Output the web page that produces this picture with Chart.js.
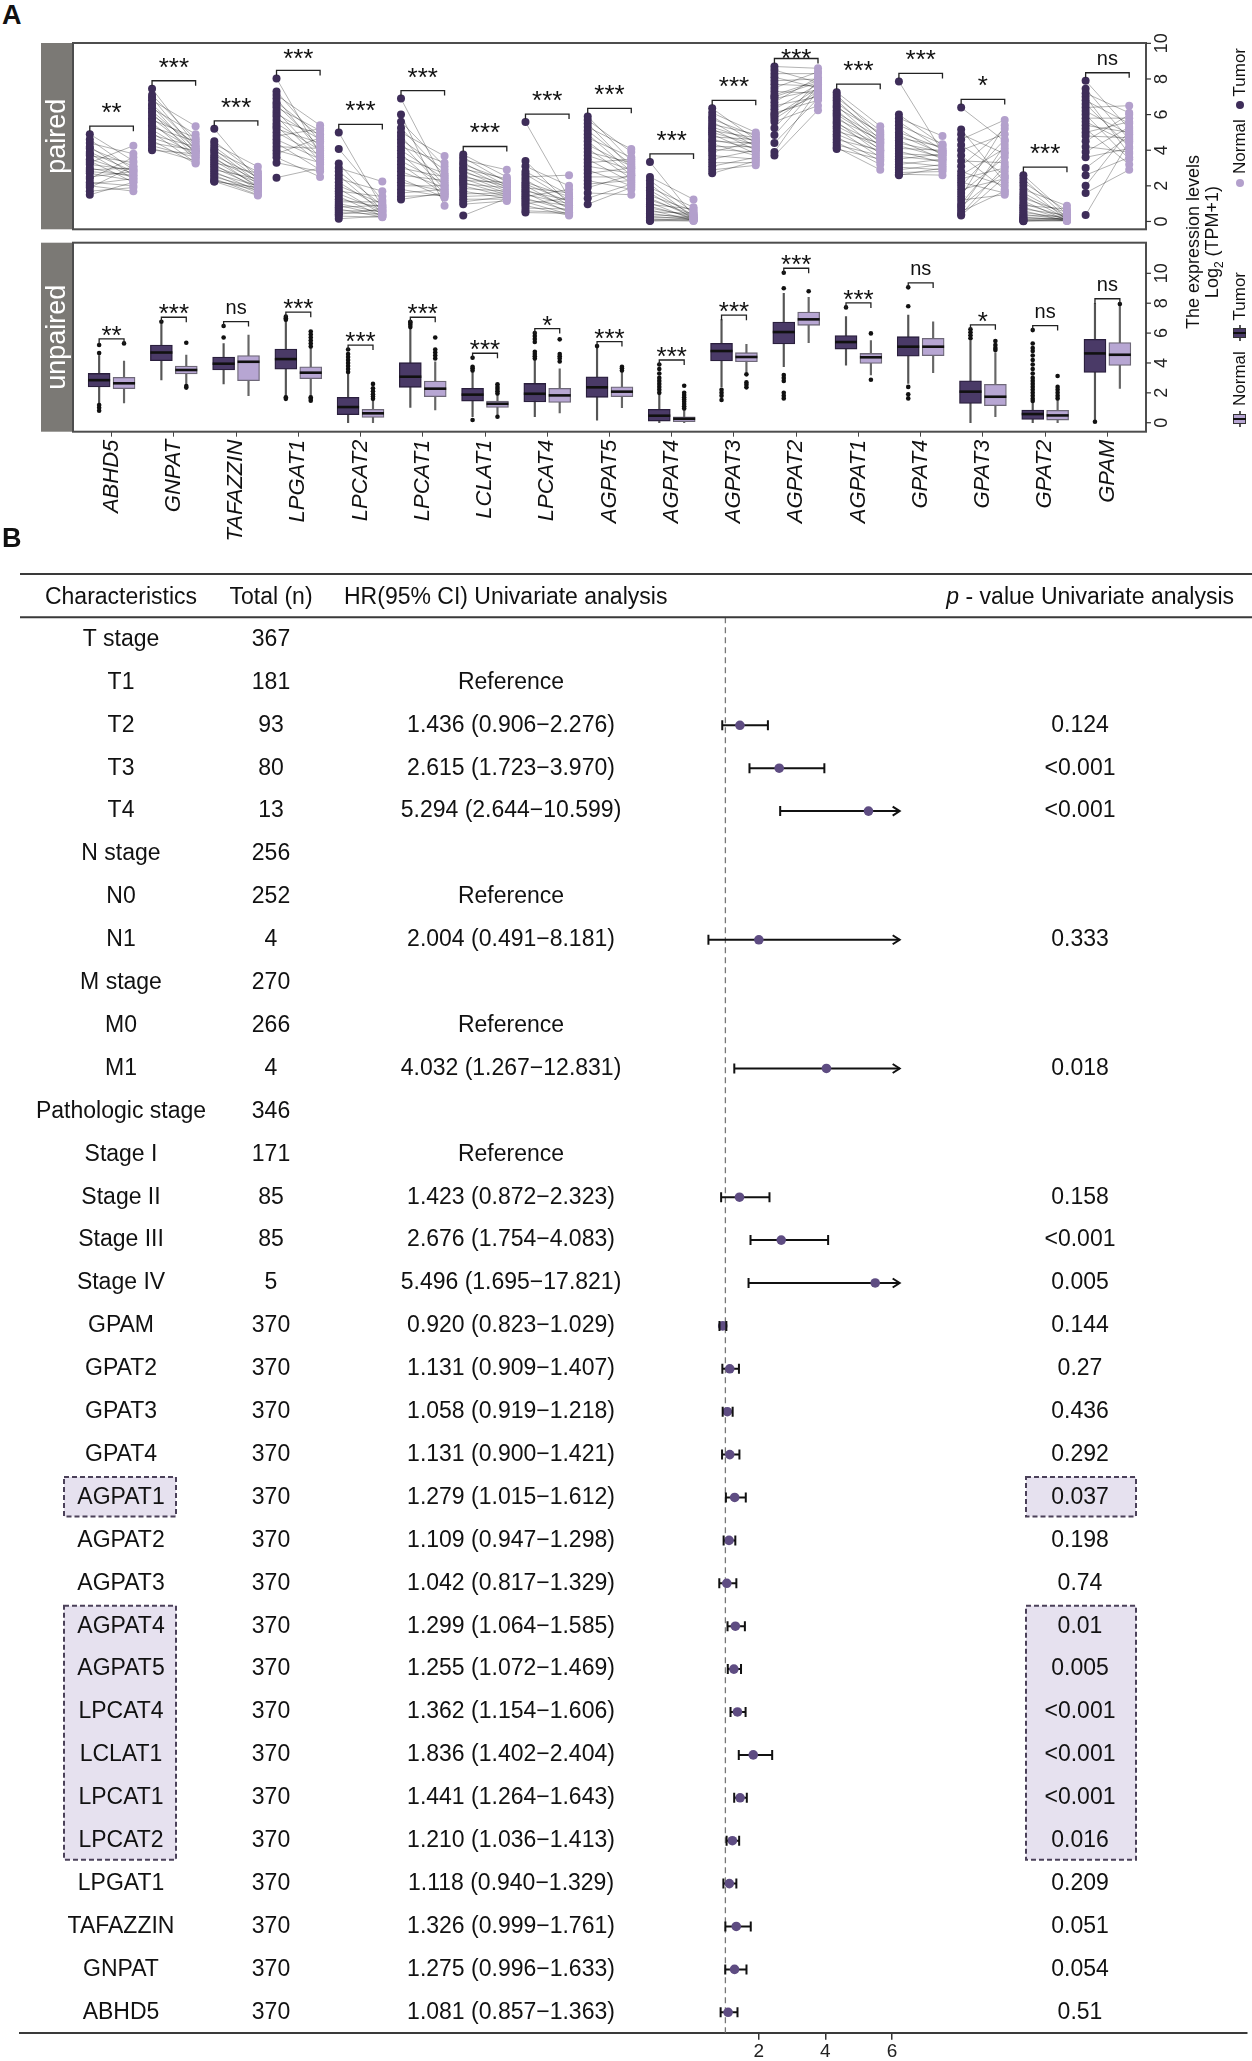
<!DOCTYPE html>
<html>
<head>
<meta charset="utf-8">
<title>Glycerophospholipid genes: expression and univariate Cox analysis</title>
<script src="https://cdn.jsdelivr.net/npm/chart.js@4.4.1/dist/chart.umd.min.js"></script>
<style>
  body { margin: 0; background: #fff; font-family: "Liberation Sans", Arial, sans-serif; color: #111; }
  #page { position: relative; width: 1252px; height: 2061px; overflow: hidden; background: #fff; }
  .abs { position: absolute; }
  .tag { font-weight: bold; font-size: 27px; line-height: 30px; }
  .rot { transform: translate(-50%, -50%) rotate(-90deg); white-space: nowrap; text-align: center; }
  .rot sub { font-size: 12px; line-height: 0; }
  .dot { display: inline-block; width: 8px; height: 8px; border-radius: 50%; vertical-align: middle; margin: 0 5px 2px 5px; }
  .key { display: inline-block; position: relative; width: 16px; height: 13px; vertical-align: middle; margin: 0 5px 2px 5px; }
  .key .wh { position: absolute; left: 0; right: 0; top: 6px; height: 1.5px; background: #555; }
  .key .bx { position: absolute; left: 3px; width: 10px; top: 0; height: 13px; box-sizing: border-box; border: 1.2px solid #333; }
  .key .md { position: absolute; left: 7px; width: 2px; top: 0; height: 13px; background: #111; }
</style>
</head>
<body>
<div id="page">
  <div class="abs tag" style="left:2px;top:0px">A</div>
  <div class="abs" style="left:0;top:0;width:1252px;height:236px"><canvas id="pairedChart"></canvas></div>
  <div class="abs" style="left:0;top:236px;width:1252px;height:320px"><canvas id="unpairedChart"></canvas></div>

  <div class="abs rot" style="left:1203px;top:242px;font-size:18px;line-height:19px">The expression levels<br>Log<sub>2</sub> (TPM+1)</div>
  <div class="abs rot" style="left:1240px;top:120px;font-size:17px"><span class="dot" style="background:#b3a0cc"></span>Normal&nbsp;<span class="dot" style="background:#3e2d59"></span>Tumor</div>
  <div class="abs rot" style="left:1240px;top:352px;font-size:17px"><span class="key"><span class="wh"></span><span class="bx" style="background:#b7a6d3"></span><span class="md"></span></span>Normal&nbsp;<span class="key"><span class="wh"></span><span class="bx" style="background:#4a3a67"></span><span class="md"></span></span>Tumor</div>

  <div class="abs tag" style="left:2px;top:523px">B</div>
  <div class="abs" style="left:0;top:560px;width:1252px;height:1501px"><canvas id="forestChart"></canvas></div>
</div>

<script>
// ---------- Panel A data ----------
const genes = ['ABHD5', 'GNPAT', 'TAFAZZIN', 'LPGAT1', 'LPCAT2', 'LPCAT1', 'LCLAT1', 'LPCAT4', 'AGPAT5',
  'AGPAT4', 'AGPAT3', 'AGPAT2', 'AGPAT1', 'GPAT4', 'GPAT3', 'GPAT2', 'GPAM'];
const pairedSig = ['**', '***', '***', '***', '***', '***', '***', '***', '***', '***', '***', '***', '***', '***', '*', '***', 'ns'];
const unpairedSig = ['**', '***', 'ns', '***', '***', '***', '***', '*', '***', '***', '***', '***', '***', 'ns', '*', 'ns', 'ns'];
const expressionTicks = [0, 2, 4, 6, 8, 10];

// paired samples: tumor[k] is matched with normal[k]
const pairedTumor = [
  [4.9, 4.6, 4.4, 4.2, 4.1, 3.9, 3.8, 3.7, 3.5, 3.4, 3.3, 3.2, 3.0, 2.9, 2.8, 2.7, 2.5, 2.4, 2.2, 2.1, 2.0, 1.9, 1.7, 1.5],
  [7.45, 7.1, 6.95, 6.8, 6.6, 6.5, 6.35, 6.2, 6.1, 5.95, 5.8, 5.7, 5.55, 5.4, 5.3, 5.15, 5.0, 4.85, 4.7, 4.55, 4.4, 4.25, 4.1, 4.0],
  [5.2, 4.5, 4.35, 4.2, 4.05, 3.95, 3.85, 3.7, 3.6, 3.5, 3.4, 3.3, 3.2, 3.1, 3.0, 2.9, 2.8, 2.7, 2.6, 2.5, 2.4, 2.3, 2.25, 2.25],
  [8.03, 7.3, 7.1, 6.9, 6.7, 6.55, 6.4, 6.2, 6.05, 5.9, 5.7, 5.5, 5.35, 5.2, 5.0, 4.8, 4.6, 4.4, 4.2, 4.0, 3.8, 3.6, 3.3, 2.46],
  [5.0, 4.07, 3.25, 3.0, 2.8, 2.6, 2.4, 2.2, 2.0, 1.85, 1.7, 1.55, 1.4, 1.25, 1.1, 1.0, 0.9, 0.8, 0.7, 0.6, 0.5, 0.4, 0.3, 0.15],
  [6.9, 6.0, 5.6, 5.25, 5.0, 4.8, 4.6, 4.4, 4.2, 4.0, 3.8, 3.6, 3.4, 3.2, 3.0, 2.8, 2.6, 2.4, 2.2, 2.0, 1.8, 1.6, 1.4, 1.24],
  [3.76, 3.6, 3.45, 3.3, 3.2, 3.05, 2.95, 2.85, 2.75, 2.6, 2.5, 2.4, 2.3, 2.2, 2.1, 2.0, 1.85, 1.7, 1.55, 1.4, 1.25, 1.1, 0.97, 0.33],
  [5.58, 3.4, 3.1, 2.8, 2.65, 2.5, 2.35, 2.2, 2.1, 2.0, 1.9, 1.8, 1.7, 1.6, 1.5, 1.4, 1.3, 1.2, 1.1, 1.0, 0.9, 0.75, 0.6, 0.5],
  [5.9, 5.7, 5.5, 5.3, 5.1, 4.9, 4.7, 4.5, 4.3, 4.1, 3.9, 3.7, 3.5, 3.3, 3.1, 2.9, 2.7, 2.5, 2.3, 2.1, 1.9, 1.6, 1.3, 0.97],
  [3.34, 2.5, 2.3, 2.1, 1.9, 1.75, 1.6, 1.45, 1.3, 1.2, 1.05, 0.95, 0.85, 0.75, 0.65, 0.55, 0.45, 0.38, 0.3, 0.22, 0.15, 0.1, 0.05, 0.02],
  [6.35, 6.1, 5.9, 5.75, 5.6, 5.45, 5.3, 5.2, 5.1, 5.0, 4.9, 4.75, 4.6, 4.5, 4.35, 4.2, 4.05, 3.9, 3.7, 3.5, 3.3, 3.1, 2.9, 2.7],
  [8.7, 8.5, 8.3, 8.1, 7.9, 7.7, 7.5, 7.3, 7.1, 6.9, 6.7, 6.5, 6.3, 6.1, 5.9, 5.75, 5.6, 5.25, 4.85, 4.4, 3.9, 3.7, 6.0, 7.0],
  [7.26, 7.1, 6.95, 6.8, 6.65, 6.5, 6.4, 6.25, 6.1, 6.0, 5.9, 5.75, 5.6, 5.5, 5.35, 5.2, 5.05, 4.9, 4.75, 4.6, 4.45, 4.3, 4.15, 4.07],
  [7.86, 6.0, 5.8, 5.6, 5.4, 5.2, 5.0, 4.85, 4.7, 4.55, 4.4, 4.25, 4.1, 3.95, 3.8, 3.65, 3.5, 3.35, 3.2, 3.05, 2.9, 2.75, 2.65, 2.6],
  [6.4, 5.16, 4.9, 4.6, 4.3, 4.0, 3.7, 3.4, 3.1, 2.8, 2.6, 2.4, 2.2, 2.0, 1.8, 1.6, 1.4, 1.2, 1.0, 0.85, 0.7, 0.55, 0.4, 0.33],
  [2.6, 2.4, 2.2, 2.0, 1.8, 1.6, 1.45, 1.3, 1.15, 1.0, 0.9, 0.8, 0.7, 0.6, 0.5, 0.4, 0.32, 0.25, 0.2, 0.15, 0.1, 0.06, 0.03, 0.01],
  [7.9, 7.45, 7.2, 7.0, 6.8, 6.6, 6.4, 6.2, 6.0, 5.8, 5.6, 5.4, 5.2, 5.0, 4.8, 4.5, 4.2, 3.9, 3.6, 3.0, 2.6, 2.0, 1.6, 0.36]
];
const pairedNormal = [
  [3.4, 2.9, 3.8, 2.6, 3.1, 2.8, 2.4, 3.3, 2.7, 2.2, 4.25, 2.9, 2.5, 3.0, 2.6, 2.3, 2.8, 3.6, 2.0, 2.4, 1.7, 3.1, 1.9, 2.2],
  [4.3, 4.6, 4.0, 5.35, 4.2, 3.8, 4.9, 4.1, 3.6, 4.4, 3.9, 4.7, 3.5, 4.0, 4.5, 3.7, 3.3, 4.2, 3.9, 3.25, 4.0, 3.6, 3.4, 3.8],
  [2.3, 2.6, 3.07, 2.4, 2.2, 2.8, 2.1, 2.5, 1.9, 2.3, 2.0, 2.7, 1.8, 2.2, 1.95, 2.4, 1.7, 2.0, 1.6, 1.85, 1.5, 1.75, 1.46, 1.9],
  [3.8, 4.5, 5.4, 3.9, 4.8, 4.2, 5.1, 3.6, 4.6, 3.4, 4.9, 4.0, 3.2, 4.4, 3.7, 5.2, 3.5, 2.9, 4.1, 3.3, 4.7, 2.5, 2.8, 3.0],
  [0.8, 1.2, 0.6, 2.24, 0.9, 0.5, 1.7, 0.7, 1.0, 0.4, 1.4, 0.6, 0.3, 0.8, 1.1, 0.5, 0.35, 0.9, 0.25, 0.6, 0.4, 0.7, 0.24, 0.3],
  [2.2, 0.88, 3.1, 2.6, 3.67, 2.0, 2.9, 1.8, 3.3, 2.4, 1.6, 2.7, 2.1, 1.5, 2.5, 1.9, 2.3, 1.33, 1.7, 2.0, 1.4, 1.8, 1.5, 1.6],
  [2.5, 2.2, 2.9, 2.0, 2.3, 1.9, 2.4, 1.8, 2.1, 1.7, 2.0, 1.6, 2.2, 1.5, 1.9, 1.4, 1.7, 1.3, 1.6, 1.5, 1.25, 1.4, 1.15, 1.3],
  [1.3, 1.0, 2.0, 1.5, 1.2, 2.6, 0.9, 1.4, 1.1, 0.7, 1.6, 0.8, 1.2, 0.5, 1.0, 1.8, 0.6, 0.9, 0.4, 1.3, 0.33, 0.7, 0.5, 0.45],
  [3.4, 3.9, 3.0, 4.07, 3.2, 2.8, 3.6, 2.6, 3.1, 2.4, 3.3, 2.9, 2.2, 3.5, 2.7, 2.0, 3.0, 2.5, 1.8, 2.3, 2.6, 1.5, 2.1, 1.9],
  [0.3, 1.24, 0.5, 0.2, 0.8, 0.35, 0.15, 0.6, 0.25, 0.4, 0.1, 0.7, 0.2, 0.3, 0.05, 0.45, 0.15, 0.25, 0.1, 0.2, 0.05, 0.15, 0.02, 0.1],
  [4.6, 5.0, 4.4, 4.8, 4.2, 4.9, 4.5, 4.0, 4.7, 4.3, 3.8, 4.6, 4.1, 4.4, 3.7, 4.2, 3.9, 4.5, 3.5, 4.0, 3.3, 3.6, 3.15, 3.4],
  [8.6, 7.8, 8.3, 7.5, 8.0, 7.6, 8.4, 7.2, 7.9, 7.4, 8.1, 7.0, 7.7, 6.8, 7.5, 7.3, 6.5, 7.9, 7.6, 6.9, 7.4, 6.25, 7.1, 7.8],
  [5.35, 4.8, 5.1, 4.6, 4.9, 4.4, 5.0, 4.2, 4.7, 4.5, 4.0, 4.6, 3.8, 4.3, 4.1, 3.6, 4.4, 3.9, 3.4, 4.0, 3.2, 3.7, 2.9, 3.5],
  [3.9, 4.3, 4.8, 4.0, 4.34, 3.7, 4.1, 3.8, 4.2, 3.5, 3.9, 3.6, 4.0, 3.3, 3.7, 3.4, 3.8, 3.1, 3.5, 2.9, 3.2, 2.8, 2.6, 3.0],
  [4.5, 2.2, 3.8, 5.7, 2.6, 4.9, 1.8, 3.3, 5.2, 2.0, 4.1, 3.0, 1.6, 4.6, 2.4, 3.6, 5.4, 1.5, 3.9, 2.8, 4.3, 1.7, 3.1, 2.5],
  [0.4, 0.2, 0.6, 0.1, 0.88, 0.3, 0.15, 0.5, 0.05, 0.25, 0.7, 0.1, 0.35, 0.02, 0.2, 0.1, 0.3, 0.05, 0.15, 0.08, 0.2, 0.03, 0.1, 0.05],
  [5.2, 4.6, 6.1, 3.8, 5.5, 4.2, 6.5, 4.9, 3.5, 5.8, 4.4, 5.0, 3.2, 5.6, 4.7, 6.0, 3.9, 5.3, 4.1, 4.8, 3.6, 5.1, 2.9, 4.5]
];

// unpaired samples: [lower whisker, Q1, median, Q3, upper whisker]
const tumorBox = [
  [1.3, 2.4, 2.85, 3.3, 4.5], [2.86, 4.15, 4.7, 5.2, 6.6], [2.59, 3.53, 3.95, 4.4, 5.3], [1.8, 3.59, 4.26, 4.93, 6.8],
  [0.0, 0.54, 1.05, 1.7, 3.3], [1.03, 2.37, 3.08, 4.02, 6.3], [0.4, 1.45, 1.88, 2.3, 3.4], [0.4, 1.4, 1.94, 2.63, 4.2],
  [0.18, 1.7, 2.37, 3.08, 5.0], [0.0, 0.11, 0.47, 0.9, 1.9], [2.4, 4.13, 4.8, 5.31, 6.9], [3.75, 5.27, 6.07, 6.74, 8.66],
  [3.86, 4.93, 5.4, 5.83, 7.1], [2.63, 4.46, 5.09, 5.76, 7.2], [0.0, 1.29, 2.08, 2.81, 5.5], [0.0, 0.22, 0.58, 0.85, 1.3],
  [0.1, 3.37, 4.64, 5.58, 8.0]
];
const normalBox = [
  [1.32, 2.28, 2.64, 3.04, 4.13], [2.6, 3.26, 3.53, 3.8, 4.53], [1.81, 2.81, 4.08, 4.49, 5.87], [1.8, 2.95, 3.35, 3.75, 5.0],
  [0.0, 0.36, 0.63, 0.9, 1.5], [0.85, 1.74, 2.28, 2.79, 4.08], [0.5, 1.03, 1.27, 1.45, 1.9], [0.65, 1.36, 1.83, 2.3, 3.6],
  [1.0, 1.74, 2.08, 2.41, 3.4], [0.0, 0.07, 0.27, 0.4, 0.85], [3.4, 4.08, 4.4, 4.69, 5.25], [5.36, 6.52, 6.92, 7.41, 8.4],
  [3.2, 3.97, 4.38, 4.64, 5.5], [3.35, 4.49, 5.09, 5.65, 6.76], [0.4, 1.14, 1.74, 2.57, 4.7], [0.0, 0.18, 0.49, 0.83, 1.5],
  [2.3, 3.84, 4.55, 5.36, 7.95]
];
const tumorOutliers = [
  [4.66, 5.2, 1.18, 1.0, 0.8], [6.76], [5.7, 6.47], [6.9, 7.0, 7.1, 1.7, 1.6],
  [3.4, 3.6, 3.8, 4.0, 4.2, 4.4, 4.6, 4.9], [6.4, 6.55, 6.7, 6.76], [3.5, 3.65, 3.75, 4.35, 0.18],
  [4.3, 4.45, 4.6, 4.75, 5.4, 5.6, 5.8, 6.0], [5.13], [2.0, 2.2, 2.4, 2.6, 2.8, 3.0, 3.3, 3.6, 3.9],
  [2.2, 2.0, 1.8, 1.52], [9.0, 10.04, 3.2, 3.0, 2.8, 2.0, 1.8, 1.63], [7.72], [7.8, 9.06, 2.4, 1.9, 1.63],
  [5.65, 5.85, 6.05, 6.25], [1.45, 1.6, 1.8, 2.0, 2.2, 2.4, 2.6, 2.8, 3.0, 3.3, 3.6, 3.9, 4.2, 4.5, 4.8, 5.0, 5.3, 6.2], [0.07]
];
const normalOutliers = [
  [5.31], [5.35, 2.46, 2.35], [], [5.1, 5.3, 5.5, 5.7, 5.9, 6.1, 1.7, 1.6, 1.47],
  [1.6, 1.75, 1.9, 2.1, 2.3, 2.6], [4.3, 4.5, 4.7, 4.9, 5.7], [1.96, 2.1, 2.25, 2.4, 2.57, 0.4],
  [4.1, 4.3, 4.45, 4.6, 5.58], [3.5, 3.65, 3.75], [0.95, 1.1, 1.25, 1.4, 1.55, 1.7, 1.85, 2.0, 2.48],
  [3.24, 2.7, 2.55, 2.37], [8.8], [5.98, 2.88], [], [4.87, 5.0, 5.2, 5.47], [1.63, 1.8, 2.0, 2.2, 2.4, 3.13], [7.95]
];

// ---------- Panel B data ----------
const characteristics = ['T stage', 'T1', 'T2', 'T3', 'T4', 'N stage', 'N0', 'N1', 'M stage', 'M0', 'M1',
  'Pathologic stage', 'Stage I', 'Stage II', 'Stage III', 'Stage IV', 'GPAM', 'GPAT2', 'GPAT3', 'GPAT4',
  'AGPAT1', 'AGPAT2', 'AGPAT3', 'AGPAT4', 'AGPAT5', 'LPCAT4', 'LCLAT1', 'LPCAT1', 'LPCAT2', 'LPGAT1',
  'TAFAZZIN', 'GNPAT', 'ABHD5'];
const totals = [367, 181, 93, 80, 13, 256, 252, 4, 270, 266, 4, 346, 171, 85, 85, 5,
  370, 370, 370, 370, 370, 370, 370, 370, 370, 370, 370, 370, 370, 370, 370, 370, 370];
const hazardRatio = [null, null, 1.436, 2.615, 5.294, null, null, 2.004, null, null, 4.032, null, null, 1.423, 2.676, 5.496,
  0.920, 1.131, 1.058, 1.131, 1.279, 1.109, 1.042, 1.299, 1.255, 1.362, 1.836, 1.441, 1.210, 1.118, 1.326, 1.275, 1.081];
const ciLower = [null, null, 0.906, 1.723, 2.644, null, null, 0.491, null, null, 1.267, null, null, 0.872, 1.754, 1.695,
  0.823, 0.909, 0.919, 0.900, 1.015, 0.947, 0.817, 1.064, 1.072, 1.154, 1.402, 1.264, 1.036, 0.940, 0.999, 0.996, 0.857];
const ciUpper = [null, null, 2.276, 3.970, 10.599, null, null, 8.181, null, null, 12.831, null, null, 2.323, 4.083, 17.821,
  1.029, 1.407, 1.218, 1.421, 1.612, 1.298, 1.329, 1.585, 1.469, 1.606, 2.404, 1.643, 1.413, 1.329, 1.761, 1.633, 1.363];
const pValues = ['', '', '0.124', '<0.001', '<0.001', '', '', '0.333', '', '', '0.018', '', '', '0.158', '<0.001', '0.005',
  '0.144', '0.27', '0.436', '0.292', '0.037', '0.198', '0.74', '0.01', '0.005', '<0.001', '<0.001', '<0.001', '0.016',
  '0.209', '0.051', '0.054', '0.51'];
const referenceLevels = ['T1', 'N0', 'M0', 'Stage I'];
const highlighted = ['AGPAT1', 'AGPAT4', 'AGPAT5', 'LPCAT4', 'LCLAT1', 'LPCAT1', 'LPCAT2'];
const hrTicks = [2, 4, 6];

// ---------- styles ----------
const FONT = '"Liberation Sans", Arial, sans-serif';
const TUMOR_DOT = '#3e2d59', NORMAL_DOT = '#b3a0cc';
const TUMOR_BOX = '#4a3a67', NORMAL_BOX = '#b7a6d3';
const STRIP = '#7b7975', FRAME = '#4d4d4d';
const FOREST_DOT = '#5e4c82', HL_FILL = '#e6e1ef', HL_EDGE = '#4b4159';
const PAIR_DX = 0.35, BOX_DX = 0.2, BOX_PX = 22;
const HR_CLIP = 6.23;

Chart.defaults.font.family = FONT;
Chart.defaults.color = '#111';
Chart.defaults.animation = false;

// strip label, frame, right axis and significance brackets of one panel
function panelDecor(o) {
  return {
    id: 'decor',
    beforeDatasetsDraw(chart) {
      const { ctx, chartArea: a } = chart;
      ctx.save();
      ctx.fillStyle = STRIP;
      ctx.fillRect(a.left - 32, a.top, 32, a.bottom - a.top);
      ctx.translate(a.left - 16, (a.top + a.bottom) / 2);
      ctx.rotate(-Math.PI / 2);
      ctx.fillStyle = '#fff';
      ctx.font = '27px ' + FONT;
      ctx.textAlign = 'center';
      ctx.textBaseline = 'middle';
      ctx.fillText(o.strip, 0, 1);
      ctx.restore();
    },
    afterDatasetsDraw(chart) {
      const { ctx, chartArea: a, scales: { x, y } } = chart;
      ctx.save();
      if (o.medians) {
        ctx.strokeStyle = '#111';
        ctx.lineWidth = 2.6;
        [[tumorBox, -BOX_DX], [normalBox, BOX_DX]].forEach(([boxes, dx]) => {
          boxes.forEach((b, i) => {
            const px = x.getPixelForValue(i + dx), py = y.getPixelForValue(b[2]);
            ctx.beginPath();
            ctx.moveTo(px - BOX_PX / 2, py);
            ctx.lineTo(px + BOX_PX / 2, py);
            ctx.stroke();
          });
        });
      }
      ctx.strokeStyle = FRAME;
      ctx.lineWidth = 2;
      ctx.strokeRect(a.left, a.top, a.right - a.left, a.bottom - a.top);

      // right axis
      ctx.strokeStyle = '#333';
      ctx.lineWidth = 1.2;
      ctx.fillStyle = '#222';
      ctx.font = '18px ' + FONT;
      ctx.textAlign = 'center';
      ctx.textBaseline = 'middle';
      expressionTicks.forEach(v => {
        const py = y.getPixelForValue(v);
        ctx.beginPath();
        ctx.moveTo(a.right, py);
        ctx.lineTo(a.right + 5, py);
        ctx.stroke();
        ctx.save();
        ctx.translate(a.right + 16, py);
        ctx.rotate(-Math.PI / 2);
        ctx.fillText(String(v), 0, 0);
        ctx.restore();
      });

      // brackets
      ctx.strokeStyle = '#222';
      ctx.lineWidth = 1.3;
      ctx.fillStyle = '#111';
      o.sig.forEach((s, i) => {
        const x1 = x.getPixelForValue(i - o.dx), x2 = x.getPixelForValue(i + o.dx);
        const yb = y.getPixelForValue(o.tops[i]);
        ctx.beginPath();
        ctx.moveTo(x1, yb + 5);
        ctx.lineTo(x1, yb);
        ctx.lineTo(x2, yb);
        ctx.lineTo(x2, yb + 5);
        ctx.stroke();
        const isNs = s === 'ns';
        let cy = yb - (isNs ? o.nsOffset : o.starOffset);
        cy = Math.max(cy, a.top + 9);
        ctx.font = (isNs ? '20px ' : '26px ') + FONT;
        ctx.textBaseline = 'alphabetic';
        ctx.fillText(s, (x1 + x2) / 2, cy + (isNs ? 5 : 15));
      });
      ctx.restore();
    }
  };
}

const pairedTops = genes.map((g, i) => Math.max(...pairedTumor[i], ...pairedNormal[i]) + 0.45);
const unpairedTops = genes.map((g, i) =>
  Math.max(tumorBox[i][4], normalBox[i][4], ...tumorOutliers[i], ...normalOutliers[i]) + 0.3);

// ---------- paired panel ----------
new Chart(document.getElementById('pairedChart'), {
  type: 'scatter',
  data: {
    datasets: [
      {
        data: pairedTumor.flatMap((vals, i) => vals.map(v => ({ x: i - PAIR_DX, y: v }))),
        pointBackgroundColor: TUMOR_DOT, pointBorderColor: TUMOR_DOT, pointBorderWidth: 0, pointRadius: 4
      },
      {
        data: pairedNormal.flatMap((vals, i) => vals.map(v => ({ x: i + PAIR_DX, y: v }))),
        pointBackgroundColor: NORMAL_DOT, pointBorderColor: NORMAL_DOT, pointBorderWidth: 0, pointRadius: 4
      },
      ...pairedTumor.map((vals, i) => ({
        type: 'line',
        data: vals.flatMap((t, k) => [
          { x: i - PAIR_DX, y: t }, { x: i + PAIR_DX, y: pairedNormal[i][k] }, { x: i, y: null }
        ]),
        borderColor: 'rgba(0,0,0,0.3)', borderWidth: 1, pointRadius: 0, spanGaps: false, fill: false
      }))
    ]
  },
  options: {
    responsive: true, maintainAspectRatio: false, events: [],
    layout: { padding: { left: 73, right: 106, top: 43, bottom: 6.7 } },
    plugins: { legend: { display: false }, tooltip: { enabled: false } },
    scales: {
      x: { type: 'linear', display: false, min: -0.62, max: 16.62 },
      y: { type: 'linear', display: false, min: -0.44, max: 10.02 }
    }
  },
  plugins: [panelDecor({ strip: 'paired', sig: pairedSig, tops: pairedTops, dx: PAIR_DX, starOffset: 20, nsOffset: 13 })]
});

// ---------- unpaired panel ----------
new Chart(document.getElementById('unpairedChart'), {
  type: 'bar',
  data: {
    datasets: [
      {
        type: 'scatter',
        data: tumorOutliers.flatMap((vals, i) => vals.map(v => ({ x: i - BOX_DX, y: v }))),
        pointBackgroundColor: '#111', pointBorderWidth: 0, pointRadius: 2.3
      },
      {
        type: 'scatter',
        data: normalOutliers.flatMap((vals, i) => vals.map(v => ({ x: i + BOX_DX, y: v }))),
        pointBackgroundColor: '#111', pointBorderWidth: 0, pointRadius: 2.3
      },
      {
        data: tumorBox.map((b, i) => ({ x: i - BOX_DX, y: [b[1], b[3]] })),
        backgroundColor: TUMOR_BOX, borderColor: '#2a1f3d', borderWidth: 1.3, borderSkipped: false,
        barThickness: BOX_PX, grouped: false
      },
      {
        data: normalBox.map((b, i) => ({ x: i + BOX_DX, y: [b[1], b[3]] })),
        backgroundColor: NORMAL_BOX, borderColor: '#6e6878', borderWidth: 1.3, borderSkipped: false,
        barThickness: BOX_PX, grouped: false
      },
      {
        data: tumorBox.map((b, i) => ({ x: i - BOX_DX, y: [b[0], b[4]] })),
        backgroundColor: '#555', borderWidth: 0, barThickness: 1.5, grouped: false
      },
      {
        data: normalBox.map((b, i) => ({ x: i + BOX_DX, y: [b[0], b[4]] })),
        backgroundColor: '#666', borderWidth: 0, barThickness: 1.5, grouped: false
      }
    ]
  },
  options: {
    responsive: true, maintainAspectRatio: false, events: [],
    layout: { padding: { left: 73, right: 106, top: 6.7, bottom: 4.3 } },
    plugins: { legend: { display: false }, tooltip: { enabled: false } },
    scales: {
      x: {
        type: 'linear', min: -0.62, max: 16.62, offset: false,
        afterBuildTicks: s => { s.ticks = genes.map((g, i) => ({ value: i })); },
        afterFit: s => { s.height = 120; },
        ticks: {
          autoSkip: false, minRotation: 90, maxRotation: 90, padding: 3, color: '#111',
          font: { family: FONT, size: 22, style: 'italic' },
          callback: v => genes[v]
        },
        grid: { display: true, offset: false, drawOnChartArea: false, drawTicks: true, tickLength: 5, color: '#444' },
        border: { display: false }
      },
      y: { type: 'linear', display: false, min: -0.6, max: 12.05 }
    }
  },
  plugins: [panelDecor({ strip: 'unpaired', sig: unpairedSig, tops: unpairedTops, dx: BOX_DX, starOffset: 10, nsOffset: 13, medians: true })]
});

// ---------- forest plot ----------
const COL_CHAR = 121, COL_TOTAL = 271, COL_HR = 511, COL_P = 1080;
const HL_COLS = [[64, 176], [1026, 1136]];

const hlRuns = [];
characteristics.forEach((c, r) => {
  if (!highlighted.includes(c)) return;
  const last = hlRuns[hlRuns.length - 1];
  if (last && last[1] === r - 1) last[1] = r; else hlRuns.push([r, r]);
});

const hrPoints = [], ciSegments = [];
hazardRatio.forEach((hr, r) => {
  if (hr === null) return;
  hrPoints.push({ x: hr, y: r });
  ciSegments.push({ x: ciLower[r], y: r }, { x: Math.min(ciUpper[r], HR_CLIP), y: r }, { x: ciLower[r], y: null });
});

const fmt = v => v.toFixed(3);

const forestTable = {
  id: 'forestTable',
  beforeDatasetsDraw(chart) {
    const { ctx, chartArea: a, scales: { x, y } } = chart;
    ctx.save();
    hlRuns.forEach(([r0, r1]) => {
      const top = y.getPixelForValue(r0) - 20.5, bot = y.getPixelForValue(r1) + 19;
      HL_COLS.forEach(([l, r]) => {
        ctx.fillStyle = HL_FILL;
        ctx.fillRect(l, top, r - l, bot - top);
        ctx.setLineDash([5, 3]);
        ctx.lineWidth = 2;
        ctx.strokeStyle = HL_EDGE;
        ctx.strokeRect(l, top, r - l, bot - top);
      });
    });
    const x1 = x.getPixelForValue(1);
    ctx.setLineDash([6, 4]);
    ctx.strokeStyle = '#777';
    ctx.lineWidth = 1.3;
    ctx.beginPath();
    ctx.moveTo(x1, a.top);
    ctx.lineTo(x1, a.bottom);
    ctx.stroke();
    ctx.restore();
  },
  afterDatasetsDraw(chart) {
    const { ctx, chartArea: a, scales: { x, y } } = chart;
    ctx.save();
    // caps and arrows
    ctx.strokeStyle = '#111';
    ctx.lineWidth = 2;
    hazardRatio.forEach((hr, r) => {
      if (hr === null) return;
      const py = y.getPixelForValue(r);
      const lo = x.getPixelForValue(ciLower[r]);
      ctx.beginPath();
      ctx.moveTo(lo, py - 5); ctx.lineTo(lo, py + 5);
      if (ciUpper[r] <= HR_CLIP) {
        const hi = x.getPixelForValue(ciUpper[r]);
        ctx.moveTo(hi, py - 5); ctx.lineTo(hi, py + 5);
      } else {
        const tip = x.getPixelForValue(HR_CLIP);
        ctx.moveTo(tip - 7, py - 4.5); ctx.lineTo(tip, py); ctx.lineTo(tip - 7, py + 4.5);
      }
      ctx.stroke();
    });

    // table text
    ctx.fillStyle = '#111';
    ctx.font = '23px ' + FONT;
    ctx.textAlign = 'center';
    ctx.textBaseline = 'middle';
    characteristics.forEach((c, r) => {
      const py = y.getPixelForValue(r);
      ctx.fillText(c, COL_CHAR, py);
      ctx.fillText(String(totals[r]), COL_TOTAL, py);
      let hrText = '';
      if (referenceLevels.includes(c)) hrText = 'Reference';
      else if (hazardRatio[r] !== null) hrText = fmt(hazardRatio[r]) + ' (' + fmt(ciLower[r]) + '\u2212' + fmt(ciUpper[r]) + ')';
      if (hrText) ctx.fillText(hrText, COL_HR, py);
      if (pValues[r]) ctx.fillText(pValues[r], COL_P, py);
    });

    // header
    const hy = 37.7;
    ctx.fillText('Characteristics', COL_CHAR, hy);
    ctx.fillText('Total (n)', COL_TOTAL, hy);
    ctx.textAlign = 'left';
    ctx.fillText('HR(95% CI) Univariate analysis', 344, hy);
    const rest = ' - value Univariate analysis';
    const wRest = ctx.measureText(rest).width;
    ctx.fillText(rest, 1234 - wRest, hy);
    ctx.font = 'italic 23px ' + FONT;
    const wP = ctx.measureText('p').width;
    ctx.fillText('p', 1234 - wRest - wP, hy);

    ctx.strokeStyle = '#3a3a3a';
    ctx.lineWidth = 2;
    ctx.beginPath();
    ctx.moveTo(a.left, 14); ctx.lineTo(1252, 14);
    ctx.moveTo(a.left, a.top); ctx.lineTo(1252, a.top);
    ctx.stroke();
    ctx.restore();
  }
};

new Chart(document.getElementById('forestChart'), {
  type: 'scatter',
  data: {
    datasets: [
      {
        data: hrPoints,
        pointBackgroundColor: FOREST_DOT, pointBorderColor: FOREST_DOT, pointBorderWidth: 0, pointRadius: 4.8
      },
      {
        type: 'line', data: ciSegments,
        borderColor: '#111', borderWidth: 2, pointRadius: 0, spanGaps: false, fill: false
      }
    ]
  },
  options: {
    responsive: true, maintainAspectRatio: false, events: [],
    layout: { padding: { left: 20, right: 2, top: 57.3, bottom: 0.3 } },
    plugins: { legend: { display: false }, tooltip: { enabled: false } },
    scales: {
      x: {
        type: 'linear', min: -20.168, max: 16.659,
        afterBuildTicks: s => { s.ticks = hrTicks.map(v => ({ value: v })); },
        afterFit: s => { s.height = 28; },
        ticks: { autoSkip: false, padding: 1, color: '#222', font: { family: FONT, size: 19 } },
        grid: { display: true, drawOnChartArea: false, drawTicks: true, tickLength: 7, color: '#333', lineWidth: 1.5 },
        border: { display: true, color: '#3a3a3a', width: 2 }
      },
      y: { type: 'linear', display: false, reverse: true, min: -0.517, max: 32.476 }
    }
  },
  plugins: [forestTable]
});
</script>
</body>
</html>
